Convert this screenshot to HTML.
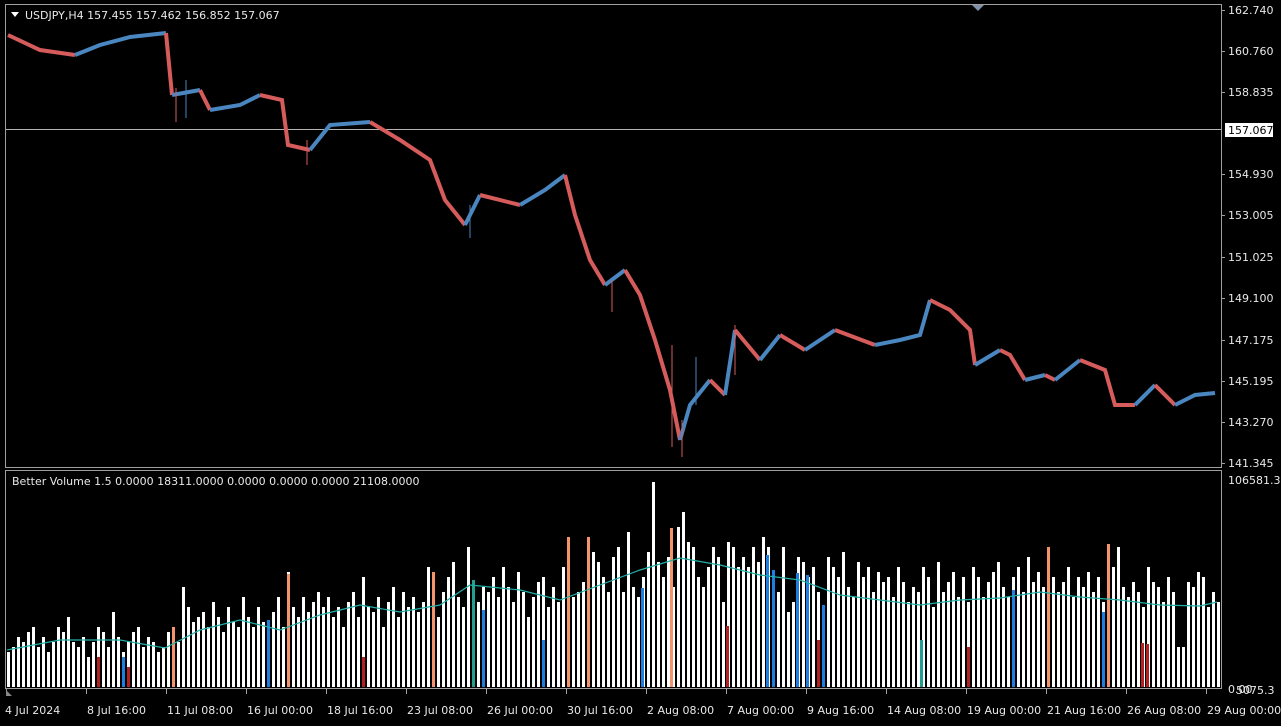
<!DOCTYPE html>
<html><head><meta charset="utf-8"><style>
html,body{margin:0;padding:0;background:#000;width:1281px;height:726px;overflow:hidden}
svg{display:block}
text{font-family:"DejaVu Sans","Liberation Sans",sans-serif;font-size:11px;fill:#e8e8e8}
</style></head><body>
<svg width="1281" height="726" xmlns="http://www.w3.org/2000/svg">
<rect x="0" y="0" width="1281" height="726" fill="#000"/>
<rect x="5.5" y="4.5" width="1216" height="463" fill="none" stroke="#a0a0a0"/>
<rect x="5.5" y="470.5" width="1216" height="218" fill="none" stroke="#a0a0a0"/>
<line x1="6" y1="129.5" x2="1221" y2="129.5" stroke="#b4b4b4"/>
<polygon points="972,5 984,5 978,11" fill="#8090a8"/>

<g stroke="#a0a0a0">
<line x1="1221" y1="10.5" x2="1225" y2="10.5"/><line x1="1221" y1="51.5" x2="1225" y2="51.5"/><line x1="1221" y1="92.5" x2="1225" y2="92.5"/><line x1="1221" y1="174.5" x2="1225" y2="174.5"/><line x1="1221" y1="215.5" x2="1225" y2="215.5"/><line x1="1221" y1="257.5" x2="1225" y2="257.5"/><line x1="1221" y1="298.5" x2="1225" y2="298.5"/><line x1="1221" y1="340.5" x2="1225" y2="340.5"/><line x1="1221" y1="381.5" x2="1225" y2="381.5"/><line x1="1221" y1="422.5" x2="1225" y2="422.5"/><line x1="1221" y1="463.5" x2="1225" y2="463.5"/>
</g>
<text x="1228" y="14">162.740</text><text x="1228" y="55">160.760</text><text x="1228" y="96">158.835</text><text x="1228" y="178">154.930</text><text x="1228" y="219">153.005</text><text x="1228" y="261">151.025</text><text x="1228" y="302">149.100</text><text x="1228" y="344">147.175</text><text x="1228" y="385">145.195</text><text x="1228" y="426">143.270</text><text x="1228" y="467">141.345</text>
<rect x="1225" y="123" width="48" height="14" fill="#fff"/><text x="1228" y="134" style="fill:#000">157.067</text>
<text x="1228" y="484">106581.3</text><text x="1228" y="693">0.00</text><text x="1236" y="694">5075.3</text>

<polygon points="11,12 19,12 15,17" fill="#fff"/>
<text x="25" y="19">USDJPY,H4  157.455 157.462 156.852 157.067</text>
<text x="12" y="485">Better Volume 1.5 0.0000 18311.0000 0.0000 0.0000 0.0000 21108.0000</text>

<!-- price path (candles approximated) -->
<g fill="none" stroke-width="4">
<polyline stroke="#d65c5c" points="8,35 40,50 75,55"/>
<polyline stroke="#4a86c0" points="75,55 100,45 130,37 166,33"/>
<polyline stroke="#d65c5c" points="166,33 172,95"/>
<polyline stroke="#4a86c0" points="172,95 200,90"/>
<polyline stroke="#d65c5c" points="200,90 210,110"/>
<polyline stroke="#4a86c0" points="210,110 240,105 260,95"/>
<polyline stroke="#d65c5c" points="260,95 282,100 288,145 310,150"/>
<polyline stroke="#4a86c0" points="310,150 330,125 370,122"/>
<polyline stroke="#d65c5c" points="370,122 400,140 430,160 445,200 465,225"/>
<polyline stroke="#4a86c0" points="465,225 480,195"/>
<polyline stroke="#d65c5c" points="480,195 520,205"/>
<polyline stroke="#4a86c0" points="520,205 545,190 565,175"/>
<polyline stroke="#d65c5c" points="565,175 575,215 590,260 605,285"/>
<polyline stroke="#4a86c0" points="605,285 625,270"/>
<polyline stroke="#d65c5c" points="625,270 640,295 655,340 670,390 680,440"/>
<polyline stroke="#4a86c0" points="680,440 690,405 710,380"/>
<polyline stroke="#d65c5c" points="710,380 725,395"/>
<polyline stroke="#4a86c0" points="725,395 735,330"/>
<polyline stroke="#d65c5c" points="735,330 760,360"/>
<polyline stroke="#4a86c0" points="760,360 780,335"/>
<polyline stroke="#d65c5c" points="780,335 805,350"/>
<polyline stroke="#4a86c0" points="805,350 835,330"/>
<polyline stroke="#d65c5c" points="835,330 875,345"/>
<polyline stroke="#4a86c0" points="875,345 900,340 920,335 930,300"/>
<polyline stroke="#d65c5c" points="930,300 950,310 970,330 975,365"/>
<polyline stroke="#4a86c0" points="975,365 1000,350"/>
<polyline stroke="#d65c5c" points="1000,350 1010,355 1025,380"/>
<polyline stroke="#4a86c0" points="1025,380 1045,375"/>
<polyline stroke="#d65c5c" points="1045,375 1055,380"/>
<polyline stroke="#4a86c0" points="1055,380 1080,360"/>
<polyline stroke="#d65c5c" points="1080,360 1105,370 1115,405 1135,405"/>
<polyline stroke="#4a86c0" points="1135,405 1155,385"/>
<polyline stroke="#d65c5c" points="1155,385 1175,405"/>
<polyline stroke="#4a86c0" points="1175,405 1195,395 1215,393"/>
</g>
<!-- wicks -->
<g stroke-width="1">
<polyline fill="none" stroke="#d65c5c" points="176,88 176,122"/>
<polyline fill="none" stroke="#4a86c0" points="186,80 186,118"/>
<polyline fill="none" stroke="#d65c5c" points="307,140 307,165"/>
<polyline fill="none" stroke="#4a86c0" points="470,205 470,238"/>
<polyline fill="none" stroke="#d65c5c" points="612,280 612,312"/>
<polyline fill="none" stroke="#d65c5c" points="672,345 672,447"/>
<polyline fill="none" stroke="#d65c5c" points="682,420 682,457"/>
<polyline fill="none" stroke="#4a86c0" points="696,357 696,405"/>
<polyline fill="none" stroke="#d65c5c" points="735,325 735,375"/>
</g>

<!-- volume bars -->
<path fill="#fff" d="M7 687v-35h3v35m2 0v-40h3v40m2 0v-50h3v50m2 0v-45h3v45m2 0v-55h3v55m2 0v-60h3v60m2 0v-40h3v40m2 0v-50h3v50m2 0v-35h3v35m2 0v-45h3v45m2 0v-60h3v60m2 0v-55h3v55m2 0v-70h3v70m2 0v-45h3v45m2 0v-40h3v40m2 0v-50h3v50
m2 0v-30h3v30m2 0v-45h3v45m2 0v-60h3v60m2 0v-55h3v55m2 0v-40h3v40m2 0v-75h3v75m2 0v-50h3v50m2 0v-35h3v35m2 0v-45h3v45m2 0v-55h3v55m2 0v-60h3v60m2 0v-40h3v40m2 0v-50h3v50m2 0v-45h3v45m2 0v-35h3v35m2 0v-40h3v40
m2 0v-55h3v55m2 0v-60h3v60m2 0v-45h3v45m2 0v-100h3v100m2 0v-80h3v80m2 0v-65h3v65m2 0v-70h3v70m2 0v-75h3v75m2 0v-60h3v60m2 0v-85h3v85m2 0v-70h3v70m2 0v-55h3v55m2 0v-80h3v80m2 0v-65h3v65m2 0v-60h3v60m2 0v-90h3v90
m2 0v-70h3v70m2 0v-60h3v60m2 0v-80h3v80m2 0v-65h3v65m2 0v-55h3v55m2 0v-75h3v75m2 0v-90h3v90m2 0v-60h3v60m2 0v-115h3v115m2 0v-80h3v80m2 0v-70h3v70m2 0v-90h3v90m2 0v-75h3v75m2 0v-85h3v85m2 0v-95h3v95m2 0v-80h3v80
m2 0v-90h3v90m2 0v-70h3v70m2 0v-80h3v80m2 0v-60h3v60m2 0v-85h3v85m2 0v-95h3v95m2 0v-70h3v70m2 0v-110h3v110m2 0v-80h3v80m2 0v-75h3v75m2 0v-90h3v90m2 0v-60h3v60m2 0v-85h3v85m2 0v-100h3v100m2 0v-70h3v70m2 0v-95h3v95
m2 0v-80h3v80m2 0v-90h3v90m2 0v-75h3v75m2 0v-85h3v85m2 0v-120h3v120m2 0v-100h3v100m2 0v-70h3v70m2 0v-95h3v95m2 0v-110h3v110m2 0v-125h3v125m2 0v-90h3v90m2 0v-80h3v80m2 0v-140h3v140m2 0v-75h3v75m2 0v-85h3v85m2 0v-100h3v100
m2 0v-95h3v95m2 0v-110h3v110m2 0v-90h3v90m2 0v-120h3v120m2 0v-100h3v100m2 0v-85h3v85m2 0v-115h3v115m2 0v-95h3v95m2 0v-70h3v70m2 0v-90h3v90m2 0v-105h3v105m2 0v-110h3v110m2 0v-80h3v80m2 0v-100h3v100m2 0v-85h3v85m2 0v-120h3v120
m2 0v-150h3v150m2 0v-90h3v90m2 0v-95h3v95m2 0v-105h3v105m2 0v-150h3v150m2 0v-135h3v135m2 0v-125h3v125m2 0v-110h3v110m2 0v-95h3v95m2 0v-130h3v130m2 0v-140h3v140m2 0v-95h3v95m2 0v-155h3v155m2 0v-100h3v100m2 0v-90h3v90m2 0v-110h3v110
m2 0v-135h3v135m2 0v-205h3v205m2 0v-125h3v125m2 0v-110h3v110m2 0v-130h3v130m2 0v-100h3v100m2 0v-160h3v160m2 0v-175h3v175m2 0v-145h3v145m2 0v-140h3v140m2 0v-110h3v110m2 0v-100h3v100m2 0v-120h3v120m2 0v-140h3v140m2 0v-130h3v130m2 0v-85h3v85
m2 0v-145h3v145m2 0v-140h3v140m2 0v-120h3v120m2 0v-130h3v130m2 0v-120h3v120m2 0v-140h3v140m2 0v-125h3v125m2 0v-150h3v150m2 0v-140h3v140m2 0v-110h3v110m2 0v-95h3v95m2 0v-140h3v140m2 0v-75h3v75m2 0v-85h3v85m2 0v-130h3v130m2 0v-125h3v125
m2 0v-110h3v110m2 0v-120h3v120m2 0v-95h3v95m2 0v-80h3v80m2 0v-130h3v130m2 0v-120h3v120m2 0v-110h3v110m2 0v-135h3v135m2 0v-100h3v100m2 0v-90h3v90m2 0v-125h3v125m2 0v-110h3v110m2 0v-120h3v120m2 0v-95h3v95m2 0v-115h3v115m2 0v-105h3v105
m2 0v-110h3v110m2 0v-90h3v90m2 0v-120h3v120m2 0v-105h3v105m2 0v-85h3v85m2 0v-100h3v100m2 0v-95h3v95m2 0v-120h3v120m2 0v-110h3v110m2 0v-80h3v80m2 0v-125h3v125m2 0v-95h3v95m2 0v-105h3v105m2 0v-115h3v115m2 0v-90h3v90m2 0v-110h3v110
m2 0v-85h3v85m2 0v-120h3v120m2 0v-110h3v110m2 0v-90h3v90m2 0v-105h3v105m2 0v-115h3v115m2 0v-125h3v125m2 0v-100h3v100m2 0v-90h3v90m2 0v-110h3v110m2 0v-120h3v120m2 0v-95h3v95m2 0v-130h3v130m2 0v-105h3v105m2 0v-115h3v115m2 0v-100h3v100
m2 0v-140h3v140m2 0v-110h3v110m2 0v-95h3v95m2 0v-105h3v105m2 0v-120h3v120m2 0v-90h3v90m2 0v-110h3v110m2 0v-100h3v100m2 0v-115h3v115m2 0v-95h3v95m2 0v-110h3v110m2 0v-85h3v85m2 0v-100h3v100m2 0v-120h3v120m2 0v-140h3v140m2 0v-100h3v100
m2 0v-90h3v90m2 0v-105h3v105m2 0v-95h3v95m2 0v-80h3v80m2 0v-120h3v120m2 0v-105h3v105m2 0v-100h3v100m2 0v-85h3v85m2 0v-110h3v110m2 0v-95h3v95m2 0v-40h3v40m2 0v-40h3v40m2 0v-105h3v105m2 0v-100h3v100m2 0v-115h3v115m2 0v-110h3v110
m2 0v-80h3v80m2 0v-95h3v95m2 0v-85h3v85"/>
<!-- coloured volume bars -->
<g>
<rect x="97" y="657" width="3" height="30" fill="#b22222"/>
<rect x="122" y="657" width="3" height="30" fill="#1e7fe0"/>
<rect x="127" y="667" width="3" height="20" fill="#b22222"/>
<rect x="172" y="627" width="3" height="60" fill="#f4946c"/>
<rect x="267" y="620" width="3" height="67" fill="#1e7fe0"/>
<rect x="287" y="574" width="3" height="113" fill="#f4946c"/>
<rect x="362" y="657" width="3" height="30" fill="#b22222"/>
<rect x="432" y="572" width="3" height="115" fill="#f4946c"/>
<rect x="472" y="580" width="3" height="107" fill="#20a090"/>
<rect x="482" y="610" width="3" height="77" fill="#1e7fe0"/>
<rect x="542" y="640" width="3" height="47" fill="#1e7fe0"/>
<rect x="567" y="537" width="3" height="150" fill="#f4946c"/>
<rect x="587" y="537" width="3" height="150" fill="#f4946c"/>
<rect x="641" y="588" width="3" height="99" fill="#1e7fe0"/>
<rect x="670" y="528" width="3" height="159" fill="#f4946c"/>
<rect x="726" y="626" width="3" height="61" fill="#b22222"/>
<rect x="766" y="555" width="3" height="132" fill="#1e7fe0"/>
<rect x="772" y="570" width="3" height="117" fill="#1e7fe0"/>
<rect x="796" y="573" width="3" height="114" fill="#1e7fe0"/>
<rect x="806" y="575" width="3" height="112" fill="#1e7fe0"/>
<rect x="817" y="640" width="3" height="47" fill="#b22222"/>
<rect x="822" y="605" width="3" height="82" fill="#1e7fe0"/>
<rect x="920" y="640" width="3" height="47" fill="#20a090"/>
<rect x="967" y="647" width="3" height="40" fill="#b22222"/>
<rect x="1012" y="590" width="3" height="97" fill="#1e7fe0"/>
<rect x="1047" y="547" width="3" height="140" fill="#f4946c"/>
<rect x="1102" y="612" width="3" height="75" fill="#1e7fe0"/>
<rect x="1107" y="544" width="3" height="143" fill="#f4946c"/>
<rect x="1141" y="643" width="3" height="44" fill="#b22222"/>
<rect x="1146" y="644" width="3" height="43" fill="#b22222"/>
</g>
<polyline fill="none" stroke="#20b0a8" stroke-width="1.2" points="7,650 60,640 120,640 165,648 200,630 240,620 280,630 320,615 360,605 400,612 440,605 470,585 520,590 560,600 600,585 640,570 680,558 720,565 760,575 800,580 840,595 880,600 920,605 960,600 1000,598 1040,592 1080,597 1120,600 1160,605 1200,606 1217,602"/>

<!-- time axis -->
<g stroke="#a0a0a0">
<line x1="6.5" y1="689" x2="6.5" y2="694"/><line x1="86.5" y1="689" x2="86.5" y2="694"/><line x1="166.5" y1="689" x2="166.5" y2="694"/><line x1="246.5" y1="689" x2="246.5" y2="694"/><line x1="326.5" y1="689" x2="326.5" y2="694"/><line x1="406.5" y1="689" x2="406.5" y2="694"/><line x1="486.5" y1="689" x2="486.5" y2="694"/><line x1="566.5" y1="689" x2="566.5" y2="694"/><line x1="646.5" y1="689" x2="646.5" y2="694"/><line x1="726.5" y1="689" x2="726.5" y2="694"/><line x1="806.5" y1="689" x2="806.5" y2="694"/><line x1="886.5" y1="689" x2="886.5" y2="694"/><line x1="966.5" y1="689" x2="966.5" y2="694"/><line x1="1046.5" y1="689" x2="1046.5" y2="694"/><line x1="1126.5" y1="689" x2="1126.5" y2="694"/><line x1="1206.5" y1="689" x2="1206.5" y2="694"/>
</g>
<text x="5" y="714">4 Jul 2024</text><text x="87" y="714">8 Jul 16:00</text><text x="167" y="714">11 Jul 08:00</text><text x="247" y="714">16 Jul 00:00</text><text x="327" y="714">18 Jul 16:00</text><text x="407" y="714">23 Jul 08:00</text><text x="487" y="714">26 Jul 00:00</text><text x="567" y="714">30 Jul 16:00</text><text x="647" y="714">2 Aug 08:00</text><text x="727" y="714">7 Aug 00:00</text><text x="807" y="714">9 Aug 16:00</text><text x="887" y="714">14 Aug 08:00</text><text x="967" y="714">19 Aug 00:00</text><text x="1047" y="714">21 Aug 16:00</text><text x="1127" y="714">26 Aug 08:00</text><text x="1207" y="714">29 Aug 00:00</text>
<polygon points="6,690 12,696 6,696" fill="#888"/>
</svg>
</body></html>
